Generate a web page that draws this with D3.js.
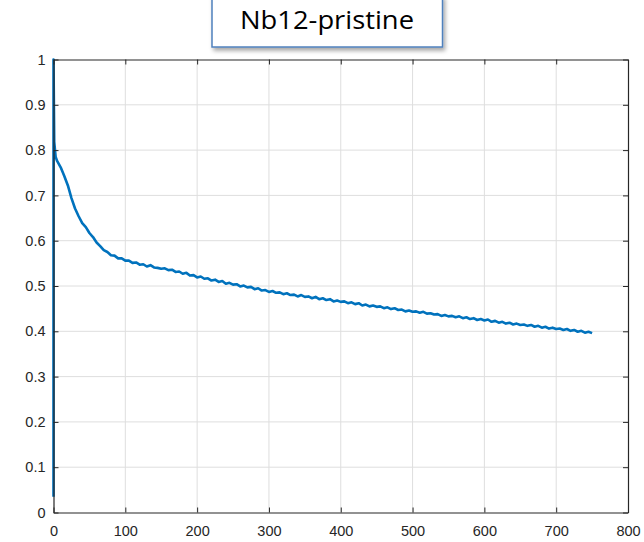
<!DOCTYPE html>
<html>
<head>
<meta charset="utf-8">
<script src="https://cdn.jsdelivr.net/npm/d3@7"></script>
<style>
  html, body { margin: 0; padding: 0; background: #ffffff; }
  svg { display: block; }
</style>
</head>
<body>
<svg id="chart" width="644" height="542"></svg>
<script>
// Sample times (s) of the Nb12-pristine trace
const times = [0, 0, 1, 3, 5, 10, 15, 20, 25, 30, 35, 40, 45, 50, 55, 60, 65, 70, 75, 80, 85, 90, 95,
  100, 105, 110, 115, 120, 125, 130, 135, 140, 145, 150, 155, 160, 165, 170, 175, 180, 185, 190, 195,
  200, 205, 210, 215, 220, 225, 230, 235, 240, 245, 250, 255, 260, 265, 270, 275, 280, 285, 290, 295,
  300, 305, 310, 315, 320, 325, 330, 335, 340, 345, 350, 355, 360, 365, 370, 375, 380, 385, 390, 395,
  400, 405, 410, 415, 420, 425, 430, 435, 440, 445, 450, 455, 460, 465, 470, 475, 480, 485, 490, 495,
  500, 505, 510, 515, 520, 525, 530, 535, 540, 545, 550, 555, 560, 565, 570, 575, 580, 585, 590, 595,
  600, 605, 610, 615, 620, 625, 630, 635, 640, 645, 650, 655, 660, 665, 670, 675, 680, 685, 690, 695,
  700, 705, 710, 715, 720, 725, 730, 735, 740, 745, 750];

// Normalised signal at each sample time
const signal = [0.035, 1.0, 0.818, 0.785, 0.776, 0.762, 0.743, 0.722, 0.694, 0.671, 0.654, 0.639, 0.630, 0.617, 0.608, 0.596, 0.588, 0.579, 0.575, 0.568, 0.567, 0.561, 0.561,
  0.556, 0.556, 0.551, 0.552, 0.547, 0.548, 0.543, 0.546, 0.541, 0.540, 0.538, 0.539, 0.535, 0.536, 0.531, 0.532, 0.527, 0.529, 0.523, 0.524,
  0.519, 0.521, 0.516, 0.517, 0.512, 0.514, 0.509, 0.511, 0.505, 0.507, 0.503, 0.504, 0.499, 0.501, 0.497, 0.498, 0.493, 0.495, 0.490, 0.491,
  0.487, 0.489, 0.485, 0.486, 0.482, 0.484, 0.480, 0.481, 0.477, 0.480, 0.476, 0.477, 0.473, 0.476, 0.471, 0.473, 0.469, 0.471, 0.466, 0.468,
  0.465, 0.466, 0.462, 0.464, 0.460, 0.462, 0.457, 0.459, 0.455, 0.457, 0.454, 0.455, 0.451, 0.453, 0.449, 0.451, 0.447, 0.448, 0.444, 0.446,
  0.443, 0.444, 0.441, 0.443, 0.439, 0.440, 0.437, 0.438, 0.434, 0.436, 0.433, 0.434, 0.431, 0.433, 0.429, 0.431, 0.427, 0.429, 0.425, 0.427,
  0.424, 0.426, 0.421, 0.423, 0.419, 0.421, 0.417, 0.419, 0.415, 0.417, 0.414, 0.415, 0.412, 0.414, 0.410, 0.412, 0.408, 0.410, 0.406, 0.408,
  0.405, 0.406, 0.403, 0.405, 0.401, 0.403, 0.399, 0.401, 0.397, 0.399, 0.396];

const xTicks = [0, 100, 200, 300, 400, 500, 600, 700, 800];
const yTicks = [0, 0.1, 0.2, 0.3, 0.4, 0.5, 0.6, 0.7, 0.8, 0.9, 1];
const titleText = "Nb12-pristine";

const svg = d3.select("#chart");
const plot = { left: 53.5, right: 628, top: 59.5, bottom: 512.5 };

const x = d3.scaleLinear().domain([0, 800]).range([plot.left, plot.right]);
const y = d3.scaleLinear().domain([0, 1]).range([plot.bottom, plot.top]);

const axisColor = "#262626";
const gridColor = "#dedede";
const labelFont = "Liberation Sans, Arial, sans-serif";

// grid lines
const grid = svg.append("g");
grid.selectAll("line.gx").data(xTicks.slice(1, -1)).join("line")
  .attr("x1", d => x(d)).attr("x2", d => x(d))
  .attr("y1", plot.top).attr("y2", plot.bottom)
  .attr("stroke", gridColor).attr("stroke-width", 1);
grid.selectAll("line.gy").data(yTicks.slice(1, -1)).join("line")
  .attr("x1", plot.left).attr("x2", plot.right)
  .attr("y1", d => y(d)).attr("y2", d => y(d))
  .attr("stroke", gridColor).attr("stroke-width", 1);

// data trace
const line = d3.line().x((d, i) => x(times[i])).y(d => y(d));
svg.append("path")
  .datum(signal)
  .attr("d", line)
  .attr("fill", "none")
  .attr("stroke", "#0072BD")
  .attr("stroke-width", 2.6)
  .attr("stroke-linejoin", "round");

// box axes with inward ticks on all four sides
function styleAxis(g) {
  g.selectAll("path.domain").attr("stroke", axisColor).attr("stroke-width", 1.2);
  g.selectAll(".tick line").attr("stroke", axisColor).attr("stroke-width", 1);
  g.selectAll(".tick text").attr("fill", axisColor)
    .style("font-family", labelFont).style("font-size", "14.5px");
}

svg.append("g")
  .attr("transform", `translate(0,${plot.bottom})`)
  .call(d3.axisBottom(x).tickValues(xTicks).tickFormat(d3.format("d"))
    .tickSizeInner(-5).tickSizeOuter(0).tickPadding(13))
  .call(styleAxis);

svg.append("g")
  .attr("transform", `translate(0,${plot.top})`)
  .call(d3.axisTop(x).tickValues(xTicks).tickFormat("")
    .tickSizeInner(-5).tickSizeOuter(0))
  .call(styleAxis);

svg.append("g")
  .attr("transform", `translate(${plot.left},0)`)
  .call(d3.axisLeft(y).tickValues(yTicks).tickFormat(d3.format("~g"))
    .tickSizeInner(-5).tickSizeOuter(0).tickPadding(8))
  .call(styleAxis);

svg.append("g")
  .attr("transform", `translate(${plot.right},0)`)
  .call(d3.axisRight(y).tickValues(yTicks).tickFormat("")
    .tickSizeInner(-5).tickSizeOuter(0))
  .call(styleAxis);

// title in a framed box with a soft drop shadow
const defs = svg.append("defs");
const shadow = defs.append("filter").attr("id", "boxShadow")
  .attr("x", "-10%").attr("y", "-10%").attr("width", "130%").attr("height", "140%");
shadow.append("feDropShadow")
  .attr("dx", 2).attr("dy", 3).attr("stdDeviation", 2)
  .attr("flood-color", "#000").attr("flood-opacity", 0.35);

svg.append("rect")
  .attr("x", 212).attr("y", -4).attr("width", 230.5).attr("height", 51)
  .attr("fill", "#ffffff")
  .attr("stroke", "#4f81bd").attr("stroke-width", 1.5)
  .attr("filter", "url(#boxShadow)");

svg.append("text")
  .attr("x", 327).attr("y", 28.5)
  .attr("text-anchor", "middle")
  .attr("fill", "#000000")
  .style("font-family", "'Open Sans', 'Noto Sans', sans-serif")
  .style("font-size", "26px")
  .style("font-variant-ligatures", "none")
  .attr("textLength", 174)
  .attr("lengthAdjust", "spacingAndGlyphs")
  .text(titleText);
</script>
</body>
</html>
